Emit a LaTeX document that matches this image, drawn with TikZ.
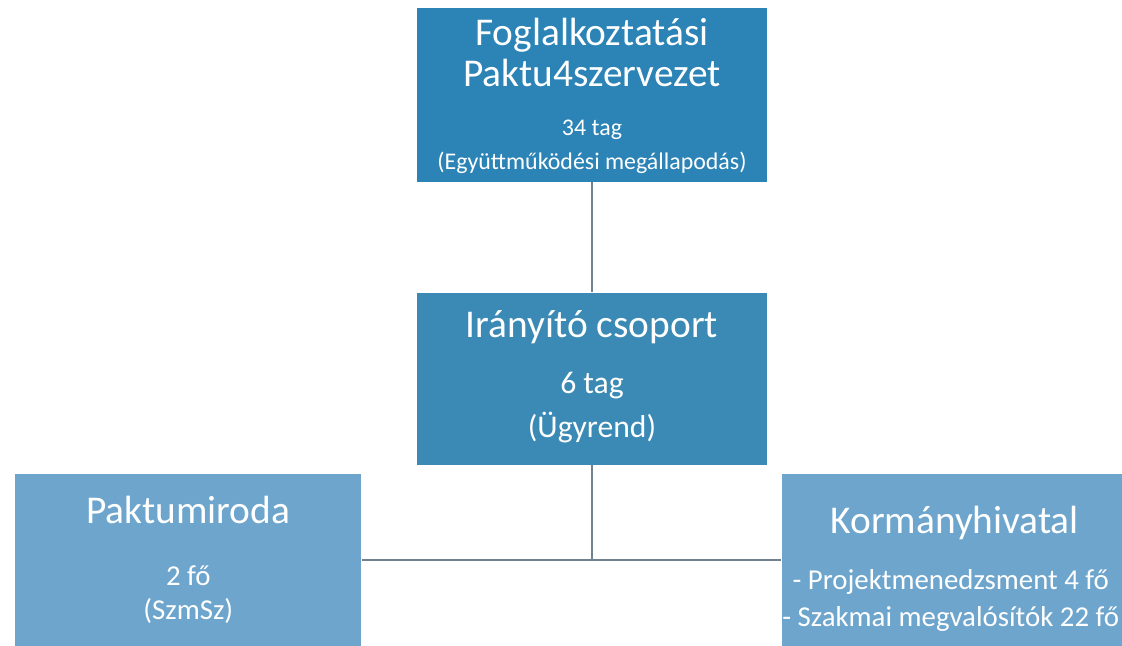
\documentclass[tikz,border=0pt]{standalone}
\usepackage{fontspec}
\setmainfont{Carlito}
\usetikzlibrary{positioning}
\definecolor{topblue}{RGB}{43,131,182}
\definecolor{midblue}{RGB}{58,138,181}
\definecolor{lowblue}{RGB}{110,165,205}
\definecolor{linegray}{RGB}{112,128,140}

\begin{document}
\begin{tikzpicture}[x=0.025cm, y=-0.025cm,
    unit/.style={rectangle, inner sep=0pt},
    line/.style={text=white, anchor=base, inner sep=0pt},
    head/.style={line, font=\fontsize{28}{34}\selectfont},
    topnote/.style={line, font=\fontsize{17}{21}\selectfont},
    midnote/.style={line, font=\fontsize{22.5}{27}\selectfont},
    lownote/.style={line, font=\fontsize{20.5}{25}\selectfont},
    link/.style={draw=linegray, line width=0.9pt}]
    \fill[white] (0,0) rectangle (1122,645);
    \useasboundingbox (0,0) rectangle (1122,645);

    % Employment pact organisation
    \node[unit, fill=topblue, minimum width=8.75cm, minimum height=4.35cm] (pakt) at (592,95) {};
    \node[head] (pakt1) at (pakt.north |- 0,45) {Foglalkoztatási};
    \node[head] (pakt2) at (pakt.north |- 0,86) {Paktu4szervezet};
    \node[topnote] (pakt3) at (pakt.north |- 0,135) {34 tag};
    \node[topnote] (pakt4) at (pakt.north |- 0,169) {(Együttműködési megállapodás)};

    % Steering group
    \node[unit, fill=midblue, minimum width=8.75cm, minimum height=4.3cm, below=2.75cm of pakt] (iranyito) {};
    \node[head] (iranyito1) at (iranyito.north |- 0,337) {Irányító csoport};
    \node[midnote] (iranyito2) at (iranyito.north |- 0,393) {6 tag};
    \node[midnote] (iranyito3) at (iranyito.north |- 0,437) {(Ügyrend)};

    % Pact office
    \node[unit, fill=lowblue, minimum width=8.65cm, minimum height=4.4cm, below left=0.225cm and 1.375cm of iranyito] (iroda) {};
    \node[head] (iroda1) at (iroda.north |- 0,523) {Paktumiroda};
    \node[lownote] (iroda2) at (iroda.north |- 0,585) {2 fő};
    \node[lownote] (iroda3) at (iroda.north |- 0,619) {(SzmSz)};

    % Government office
    \node[unit, fill=lowblue, minimum width=8.65cm, minimum height=4.775cm, below right=0.225cm and 0.35cm of iranyito] (hivatal) {};
    \node[head] (hivatal1) at (hivatal.north |- 0,533) {Kormányhivatal};
    \node[lownote] (hivatal2) at ([xshift=-0.1cm]hivatal.north |- 0,589) {- Projektmenedzsment 4 fő};
    \node[lownote] (hivatal3) at ([xshift=-0.1cm]hivatal.north |- 0,626) {- Szakmai megvalósítók 22 fő};

    % Connectors
    \coordinate[below=2.375cm of iranyito] (hub);
    \draw[link] (pakt) -- (iranyito);
    \draw[link] (iranyito) -- (hub);
    \draw[link] (iroda.east |- hub) -- (hivatal.west |- hub);
\end{tikzpicture}
\end{document}
